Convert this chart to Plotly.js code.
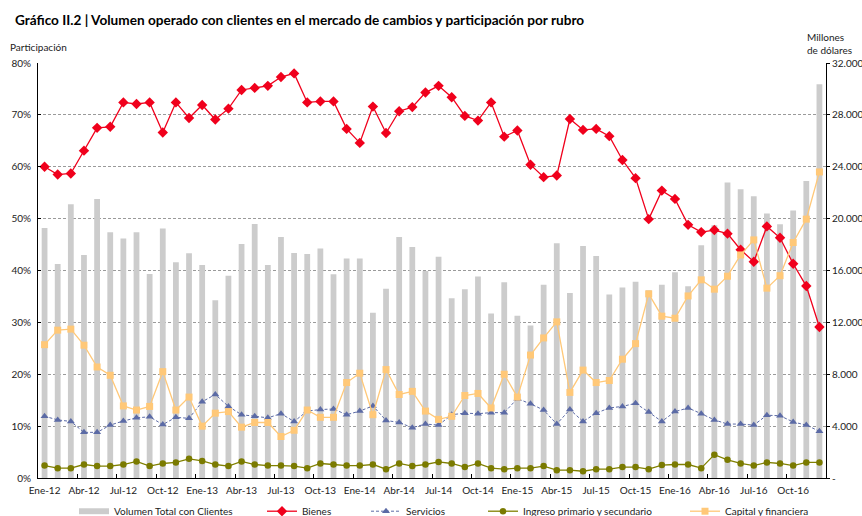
<!DOCTYPE html>
<html>
<head>
<meta charset="utf-8">
<script src="https://cdn.plot.ly/plotly-3.0.1.min.js"></script>
<style>
  html, body { margin: 0; padding: 0; background: #fff; }
  #chart { width: 862px; height: 516px; }
</style>
</head>
<body>
<div id="chart"></div>
<script>
// ---- Data ----
const monthNames = ["Ene","Feb","Mar","Abr","May","Jun","Jul","Ago","Sep","Oct","Nov","Dic"];
const years = ["12","13","14","15","16"];
const categories = [];
years.forEach(y => monthNames.forEach(m => categories.push(m + "-" + y)));

// Volumen Total con Clientes (millones de dólares)
const volumen = [
  19280,16500,21100,17200,21510,18950,18460,18950,15730,19230,
  16630,17330,16420,13700,15600,18040,19590,16420,18580,17350,
  17270,17690,15710,16920,16920,12750,14600,18580,17810,15960,
  17060,13860,14550,15530,12680,15090,12520,11750,14910,18100,
  14270,17890,17120,14140,14680,15140,14470,14910,15860,14780,
  17940,19490,22780,22260,21720,20390,19560,20620,22900,30360
];
// Participación (%)
const bienes = [
  60.0,58.5,58.7,63.1,67.5,67.7,72.4,72.1,72.4,66.6,
  72.4,69.4,71.9,69.1,71.2,74.8,75.2,75.6,77.3,78.0,
  72.4,72.6,72.6,67.3,64.6,71.6,66.5,70.7,71.5,74.3,
  75.6,73.4,69.8,68.9,72.4,65.8,67.0,60.4,58.0,58.3,
  69.2,67.1,67.3,65.9,61.3,57.8,49.9,55.4,53.8,48.8,
  47.4,47.8,47.1,44.0,41.7,48.5,46.3,41.3,37.0,29.1
];
const servicios = [
  11.9,11.2,10.9,8.8,8.8,10.2,11.0,11.6,11.8,10.3,
  11.7,11.5,14.7,16.1,13.8,12.2,11.9,11.6,12.4,10.9,
  12.9,13.2,13.3,12.2,12.9,13.9,11.1,10.7,9.7,10.4,
  10.2,12.2,12.5,12.4,12.6,12.6,15.3,14.3,13.1,10.4,
  13.2,10.9,12.5,13.5,13.8,14.4,12.7,10.9,12.8,13.5,
  12.4,11.2,10.4,10.4,10.2,12.1,12.0,10.8,10.2,9.0
];
const ingreso = [
  2.4,1.9,1.9,2.6,2.3,2.3,2.6,3.2,2.3,2.8,
  3.0,3.7,3.3,2.6,2.3,3.2,2.6,2.4,2.4,2.3,
  1.9,2.8,2.6,2.4,2.4,2.6,1.7,2.8,2.3,2.6,
  3.1,2.8,2.1,2.8,1.9,1.7,1.9,1.9,2.3,1.5,
  1.5,1.3,1.7,1.7,2.1,2.1,1.7,2.5,2.6,2.6,
  1.9,4.5,3.5,2.8,2.4,3.0,2.8,2.4,3.0,3.0
];
const capital = [
  25.7,28.5,28.7,25.6,21.4,19.8,13.9,13.1,13.8,20.5,
  13.1,15.6,10.0,12.5,12.8,9.8,10.7,10.7,8.0,9.2,
  13.1,11.7,11.7,18.4,20.2,12.2,20.9,16.1,16.7,12.9,
  11.3,11.9,15.9,16.3,13.5,20.0,15.6,23.7,27.0,30.1,
  16.5,20.8,18.4,18.8,22.9,25.9,35.5,31.2,30.8,35.1,
  38.2,36.4,38.9,43.0,45.9,36.6,39.0,45.4,49.9,59.0
];
const rightTicks = [0,4000,8000,12000,16000,20000,24000,28000,32000];
const rightTickText = ["-","4.000","8.000","12.000","16.000","20.000","24.000","28.000","32.000"];
const leftTicks = [0,10,20,30,40,50,60,70,80];
const leftTickText = ["0%","10%","20%","30%","40%","50%","60%","70%","80%"];

// ---- Chart ----
const FONT = "Lato, 'Open Sans', sans-serif";
const legendY = -0.08;

const traces = [
  { type: "bar", x: categories, y: volumen, yaxis: "y", name: "Volumen Total con Clientes",
    marker: { color: "#CCCCCC" }, showlegend: false, hoverinfo: "x+y" },
  // legend swatch for the bars
  { type: "scatter", mode: "lines", x: [null], y: [null], yaxis: "y",
    name: "Volumen Total con Clientes", line: { color: "#CCCCCC", width: 6 }, legend: "legend" },
  { type: "scatter", mode: "lines+markers", x: categories, y: bienes, yaxis: "y2", name: "Bienes",
    line: { color: "#F0001C", width: 1.3 }, marker: { symbol: "diamond", size: 8, color: "#F0001C" },
    legend: "legend2" },
  { type: "scatter", mode: "lines+markers", x: categories, y: servicios, yaxis: "y2", name: "Servicios",
    line: { color: "#5B6AA5", width: 1, dash: "3px,2px" }, marker: { symbol: "triangle-up", size: 7, color: "#5B6AA5" },
    legend: "legend3" },
  { type: "scatter", mode: "lines+markers", x: categories, y: ingreso, yaxis: "y2", name: "Ingreso primario y secundario",
    line: { color: "#808000", width: 1.3 }, marker: { symbol: "circle", size: 6.5, color: "#7A7A00" },
    legend: "legend4" },
  { type: "scatter", mode: "lines+markers", x: categories, y: capital, yaxis: "y2", name: "Capital y financiera",
    line: { color: "#FFC878", width: 1.3 }, marker: { symbol: "square", size: 7, color: "#FFC878" },
    legend: "legend5" }
];

function leg(xpx) {
  return { orientation: "h", x: (xpx - 38) / 788, xanchor: "left", y: legendY, yanchor: "middle",
    bgcolor: "rgba(0,0,0,0)", font: { family: FONT, size: 10, color: "#222" }, itemwidth: 30 };
}

const layout = {
  width: 862, height: 516,
  margin: { l: 38, r: 36, t: 63, b: 38, autoexpand: false },
  paper_bgcolor: "#fff", plot_bgcolor: "#fff",
  font: { family: FONT, size: 10, color: "#222" },
  bargap: 0.56,
  title: { text: "<b>Gráfico II.2 | Volumen operado con clientes en el mercado de cambios y participación por rubro</b>",
    x: 15 / 862, xref: "container", xanchor: "left", y: 1 - 20 / 516, yref: "container", yanchor: "middle",
    font: { family: FONT, size: 13.6, color: "#000" } },
  xaxis: {
    type: "category", range: [-0.5, 59.5], tickmode: "linear", tick0: 0, dtick: 3,
    tickson: "boundaries", ticks: "inside", ticklen: 4, tickcolor: "#000",
    showline: true, linecolor: "#000", linewidth: 1, showgrid: false, ticklabelstandoff: 3,
    tickfont: { family: FONT, size: 10, color: "#222" }, tickangle: 0
  },
  yaxis: {
    side: "right", range: [0, 32000], tickmode: "array", tickvals: rightTicks, ticktext: rightTickText,
    showline: true, linecolor: "#000", linewidth: 1, ticks: "outside", ticklen: 3, tickcolor: "#000",
    showgrid: true, gridcolor: "#9A9A9A", griddash: "3px,2px", gridwidth: 1, zeroline: false,
    tickfont: { family: FONT, size: 10, color: "#222" }, fixedrange: true
  },
  yaxis2: {
    overlaying: "y", side: "left", range: [0, 80], tickmode: "array", tickvals: leftTicks, ticktext: leftTickText,
    showline: true, linecolor: "#000", linewidth: 1, ticks: "inside", ticklen: 3, tickcolor: "#000",
    showgrid: false, zeroline: false, ticklabelstandoff: 4, tickfont: { family: FONT, size: 10, color: "#222" }
  },
  legend: leg(74),
  legend2: leg(262),
  legend3: leg(366),
  legend4: leg(483),
  legend5: leg(685),
  annotations: [
    { text: "Participación", xref: "paper", yref: "paper", x: (8 - 38) / 788, y: (478 - 47) / 415,
      xanchor: "left", yanchor: "middle", showarrow: false, font: { family: FONT, size: 10, color: "#222" } },
    { text: "Millones<br>de dólares", xref: "paper", yref: "paper", x: (805 - 38) / 788, y: (478 - 44) / 415,
      xanchor: "left", yanchor: "middle", align: "left", showarrow: false, font: { family: FONT, size: 10, color: "#222" } }
  ]
};

Plotly.newPlot("chart", traces, layout, { displayModeBar: false, staticPlot: true });
</script>
</body>
</html>
